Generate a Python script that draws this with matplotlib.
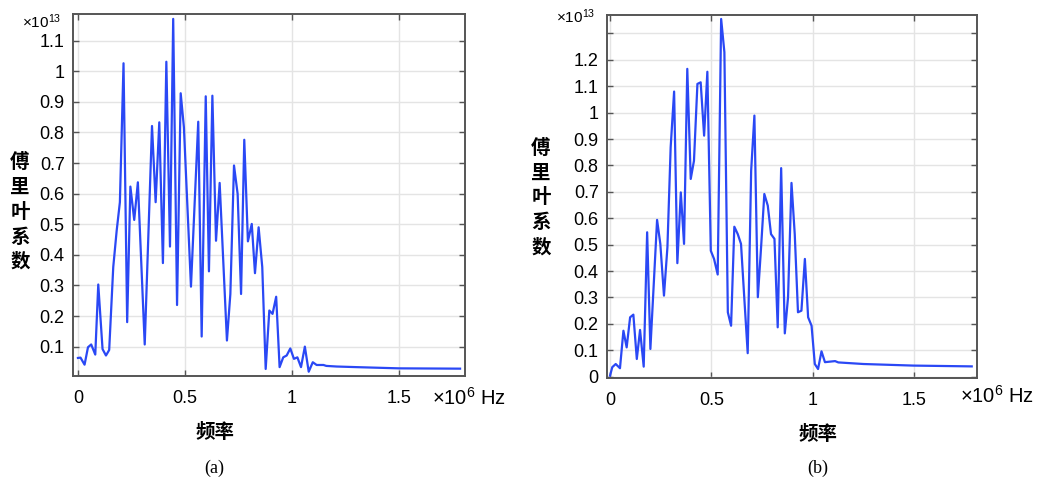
import matplotlib
matplotlib.use("Agg")
import matplotlib.pyplot as plt

plt.rcParams['font.family'] = ['Liberation Sans', 'DejaVu Sans']
plt.rcParams['mathtext.fontset'] = 'custom'
plt.rcParams['mathtext.rm'] = 'Liberation Sans'
plt.rcParams['mathtext.it'] = 'Liberation Sans'

# ---- data (a) : frequency in 1e6 Hz, coefficient in 1e13 ----
freq_a = [0.0, 0.012, 0.031, 0.047, 0.062, 0.081, 0.095, 0.115, 0.131, 0.146,
          0.165, 0.181, 0.196, 0.213, 0.230, 0.245, 0.263, 0.280, 0.312, 0.346,
          0.363, 0.380, 0.397, 0.413, 0.430, 0.445, 0.463, 0.480, 0.495, 0.528,
          0.562, 0.578, 0.597, 0.612, 0.628, 0.645, 0.662, 0.696, 0.712, 0.729,
          0.746, 0.762, 0.777, 0.794, 0.812, 0.827, 0.844, 0.861, 0.877, 0.894,
          0.909, 0.926, 0.942, 0.959, 0.975, 0.992, 1.009, 1.025, 1.042, 1.060,
          1.078, 1.097, 1.115, 1.147, 1.160, 1.208, 1.30, 1.50, 1.785]
coef_a = [0.063, 0.064, 0.041, 0.098, 0.107, 0.074, 0.303, 0.092, 0.071, 0.089,
          0.360, 0.479, 0.572, 1.026, 0.180, 0.623, 0.514, 0.637, 0.107, 0.821,
          0.572, 0.833, 0.373, 1.031, 0.427, 1.171, 0.236, 0.928, 0.817, 0.296,
          0.835, 0.133, 0.918, 0.346, 0.920, 0.446, 0.635, 0.120, 0.272, 0.692,
          0.599, 0.272, 0.776, 0.444, 0.501, 0.340, 0.490, 0.360, 0.027, 0.218,
          0.207, 0.263, 0.033, 0.065, 0.071, 0.094, 0.060, 0.065, 0.033, 0.100,
          0.018, 0.049, 0.040, 0.040, 0.037, 0.035, 0.033, 0.029, 0.028]

# ---- data (b) ----
freq_b = [0.0, 0.011, 0.028, 0.049, 0.066, 0.082, 0.099, 0.115, 0.132, 0.148,
          0.166, 0.183, 0.199, 0.232, 0.248, 0.266, 0.283, 0.299, 0.316, 0.332,
          0.349, 0.365, 0.381, 0.398, 0.414, 0.431, 0.447, 0.464, 0.480, 0.497,
          0.513, 0.531, 0.548, 0.564, 0.581, 0.597, 0.613, 0.630, 0.646, 0.663,
          0.679, 0.696, 0.712, 0.729, 0.745, 0.761, 0.778, 0.794, 0.811, 0.827,
          0.844, 0.862, 0.878, 0.895, 0.911, 0.927, 0.944, 0.961, 0.977, 0.994,
          1.010, 1.026, 1.043, 1.060, 1.110, 1.126, 1.25, 1.496, 1.784]
coef_b = [0.004, 0.036, 0.048, 0.032, 0.174, 0.111, 0.225, 0.235, 0.067, 0.177,
          0.038, 0.547, 0.105, 0.594, 0.503, 0.307, 0.490, 0.869, 1.080, 0.430,
          0.698, 0.503, 1.166, 0.749, 0.818, 1.109, 1.115, 0.913, 1.155, 0.477,
          0.446, 0.387, 1.355, 1.229, 0.244, 0.193, 0.568, 0.540, 0.503, 0.288,
          0.089, 0.780, 0.989, 0.301, 0.490, 0.692, 0.648, 0.540, 0.522, 0.187,
          0.790, 0.164, 0.301, 0.734, 0.540, 0.244, 0.250, 0.446, 0.225, 0.193,
          0.048, 0.029, 0.096, 0.055, 0.059, 0.054, 0.048, 0.042, 0.039]

xticks = [0, 0.5, 1, 1.5]
xtick_labels = ['0', '0.5', '1', '1.5']
yticks_a = [0.1, 0.2, 0.3, 0.4, 0.5, 0.6, 0.7, 0.8, 0.9, 1.0, 1.1]
ytick_labels_a = ['0.1', '0.2', '0.3', '0.4', '0.5', '0.6', '0.7', '0.8', '0.9', '1', '1.1']
yticks_b = [0, 0.1, 0.2, 0.3, 0.4, 0.5, 0.6, 0.7, 0.8, 0.9, 1.0, 1.1, 1.2, 1.3]
ytick_labels_b = ['0', '0.1', '0.2', '0.3', '0.4', '0.5', '0.6', '0.7', '0.8', '0.9', '1', '1.1', '1.2', '']

ylabel_chars = ['傅', '里', '叶', '系', '数']
xlabel_text = '频率'
panel_labels = ['(a)', '(b)']

W, H = 1040, 487
fig = plt.figure(figsize=(W / 100, H / 100), dpi=100)

LINE = '#2a48f5'
SPINE = '#555555'
CJK = ['Noto Sans CJK SC', 'DejaVu Sans']


def px(x, y):
    return x / W, 1 - y / H


def setup(ax, xlim, ylim, yticks, ylabels):
    ax.set_xlim(*xlim)
    ax.set_ylim(*ylim)
    ax.set_xticks(xticks)
    ax.set_xticklabels(xtick_labels)
    ax.set_yticks(yticks)
    ax.set_yticklabels(ylabels)
    ax.tick_params(direction='in', top=True, right=True, length=4, width=1,
                   color=SPINE, labelsize=13, pad=6)
    ax.tick_params(axis='x', pad=10)
    ax.grid(True, color='#e4e4e4', linewidth=1)
    ax.set_axisbelow(True)
    for s in ax.spines.values():
        s.set_color(SPINE)
        s.set_linewidth(1.4)


# panel (a)
ax1 = fig.add_axes([73 / W, 1 - 376 / H, 392 / W, 362 / H])
ax1.plot(freq_a, coef_a, color=LINE, lw=1.6)
setup(ax1, (-0.023, 1.808), (0.004, 1.187), yticks_a, ytick_labels_a)

# panel (b)
ax2 = fig.add_axes([607 / W, 1 - 378 / H, 370 / W, 363 / H])
ax2.plot(freq_b, coef_b, color=LINE, lw=1.6)
setup(ax2, (-0.015, 1.81), (-0.005, 1.37), yticks_b, ytick_labels_b)

# multipliers
fig.text(*px(22, 28), r'$\times10^{13}$', fontsize=11, ha='left', va='baseline')
fig.text(*px(556, 23), r'$\times10^{13}$', fontsize=11, ha='left', va='baseline')
fig.text(*px(432, 405), r'$\times10^{6}$ Hz', fontsize=14.5, ha='left', va='baseline')
fig.text(*px(960, 403), r'$\times10^{6}$ Hz', fontsize=14.5, ha='left', va='baseline')

# y labels (stacked vertical characters)
for i, ch in enumerate(ylabel_chars):
    fig.text(*px(20, 162 + i * 25), ch, fontsize=14, family=CJK,
             fontweight='bold', ha='center', va='center')
    fig.text(*px(541, 148 + i * 25), ch, fontsize=14, family=CJK,
             fontweight='bold', ha='center', va='center')

# x labels
fig.text(*px(215, 433), xlabel_text, fontsize=14, family=CJK,
         fontweight='bold', ha='center', va='center')
fig.text(*px(818, 435), xlabel_text, fontsize=14, family=CJK,
         fontweight='bold', ha='center', va='center')

# panel labels
fig.text(*px(214, 468), panel_labels[0], fontsize=13, family='Liberation Serif',
         ha='center', va='center')
fig.text(*px(818, 468), panel_labels[1], fontsize=13, family='Liberation Serif',
         ha='center', va='center')

fig.savefig('out.png', dpi=100)
